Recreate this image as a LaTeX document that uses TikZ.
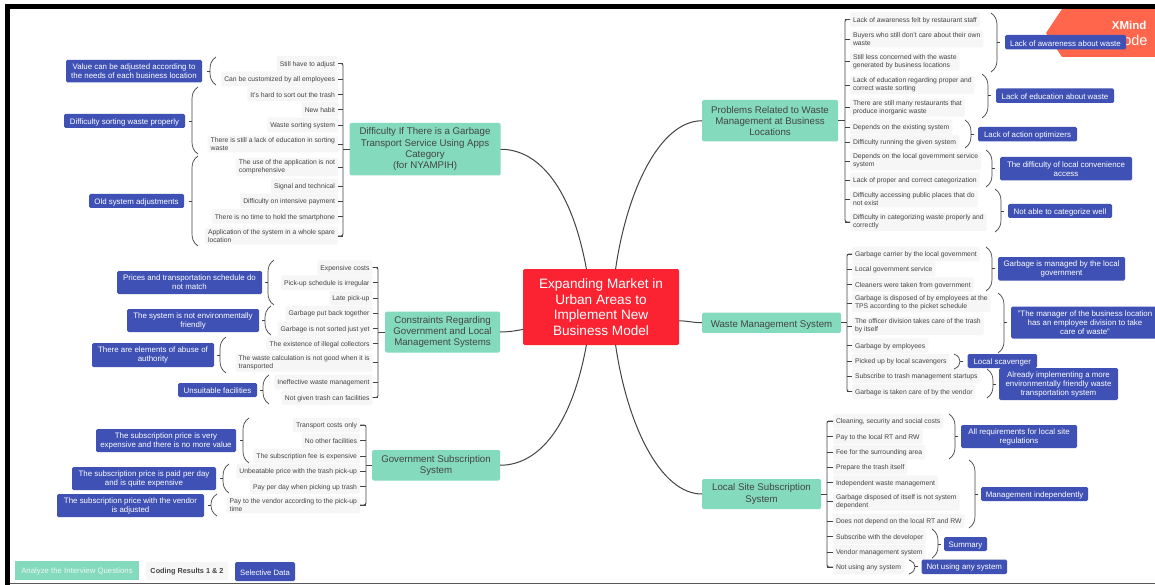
\documentclass[tikz,border=0pt]{standalone}
\usepackage{fontspec}
\setmainfont{Liberation Sans}
\definecolor{rootred}{HTML}{FB2231}
\definecolor{mainmint}{HTML}{84DABD}
\definecolor{groupblue}{HTML}{3F51B5}
\definecolor{leafgray}{HTML}{F6F6F6}
\definecolor{inkgray}{HTML}{444444}
\definecolor{badgered}{HTML}{FF664B}
\tikzset{
  lowertext/.style={execute at begin node={\rule{0pt}{1em}}},
  rootbox/.style={fill=rootred,text=white,rounded corners=1.5pt,align=center,outer sep=0pt,minimum width=156pt,minimum height=76pt,lowertext,font=\fontsize{13.6}{15.7}\selectfont},
  mainbox/.style={fill=mainmint,text=inkgray,rounded corners=1.5pt,align=center,outer sep=0pt,execute at begin node={\rule{0pt}{1.2em}},font=\fontsize{9.7}{11.2}\selectfont},
  leafbox/.style={fill=leafgray,text=inkgray,rounded corners=2pt,align=left,outer sep=0pt,inner xsep=3pt,inner ysep=2pt,minimum height=14.5pt,lowertext,font=\fontsize{6.8}{7.7}\selectfont},
  groupbox/.style={fill=groupblue,text=white,rounded corners=1.5pt,align=center,outer sep=0pt,inner sep=0pt,lowertext,font=\fontsize{7.9}{9}\selectfont},
  capline/.style={draw=inkgray,line width=.7pt},
  tickline/.style={draw=inkgray,line width=.9pt},
  spineline/.style={draw=inkgray,line width=.9pt,rounded corners=2pt},
  branchline/.style={draw=inkgray,line width=1pt}
}
\newcommand{\capbrace}[5]{%
  \pgfmathsetmacro{\capend}{#2+#5*6}
  \pgfmathsetmacro{\captip}{#2-#5*3}
  \pgfmathsetmacro{\caph}{min(12,(#4-#3)/2)}
  \coordinate (tip#1) at (\captip,0 |- #1);
  \draw[capline] (\capend,#3) .. controls ({#2+#5*1.5},{#3+\caph*.25}) and (#2,{#3+\caph*.6}) .. (#2,{#3+\caph}) -- (#2,{#4-\caph}) .. controls (#2,{#4-\caph*.6}) and ({#2+#5*1.5},{#4-\caph*.25}) .. (\capend,#4);
  \draw[capline] (tip#1) -- (#2,0 |- #1);
}
\begin{document}
\begin{tikzpicture}[x=1pt,y=-1pt]
\useasboundingbox (0,0) rectangle (1155,585);
\fill[white] (0,0) rectangle (1155,585);
\fill[badgered] (1046,33) -- (1062,9) -- (1155,9) -- (1155,57) -- (1062,57) -- cycle;
\node[text=white,font=\fontsize{11.5}{12}\selectfont\bfseries,anchor=east] (badgeName) at (1150,25) {XMind};
\node[text=white,font=\fontsize{14.5}{16}\selectfont,anchor=east] (badgeMode) at (1151,40.5) {ode};
\fill[black] (5,4) rectangle (1155,9);
\fill[black] (5,4) rectangle (10,585);
\fill[black!65] (10,582.5) rectangle (1155,584);
\node[rootbox] (root) at (601,307) {Expanding Market in\\Urban Areas to\\Implement New\\Business Model};
\node[mainbox,minimum width=151pt,minimum height=52.5pt] (mDiff) at (425,149.25) {Difficulty If There is a Garbage\\Transport Service Using Apps\\Category\\(for NYAMPIH)};
\node[mainbox,minimum width=115pt,minimum height=41pt] (mCon) at (442.5,332) {Constraints Regarding\\Government and Local\\ Management Systems};
\node[mainbox,minimum width=128pt,minimum height=30.5pt] (mGov) at (436,465.25) {Government Subscription\\System};
\node[mainbox,minimum width=136pt,minimum height=41.5pt] (mProb) at (770,120.75) {Problems Related to Waste\\Management at Business\\Locations};
\node[mainbox,minimum width=139pt,minimum height=19.5pt] (mWaste) at (771.5,322.75) {Waste Management System};
\node[mainbox,minimum width=119pt,minimum height=30pt] (mLocal) at (761.5,494) {Local Site Subscription\\System};
\draw[branchline] (root.111) .. controls (572,190) and (540,149.25) .. (mDiff.east);
\draw[branchline] (root.69) .. controls (627,190) and (660,120.75) .. (mProb.west);
\draw[branchline] (root.249) .. controls (572,424) and (540,465.25) .. (mGov.east);
\draw[branchline] (root.291) .. controls (627,424) and (660,494) .. (mLocal.west);
\draw[branchline] (root.196) .. controls (515,331) and (508,332) .. (mCon.east);
\draw[branchline] (root.350) .. controls (688,321) and (694,322.75) .. (mWaste.west);
\coordinate (spDiff) at (343,0);
\coordinate (spCon) at (378,0);
\coordinate (spGov) at (366,0);
\coordinate (spProb) at (845,0);
\coordinate (spWaste) at (847,0);
\coordinate (spLocal) at (827,0);
\foreach \nm/\yy/\txt in {
  a1/63.5/Still have to adjust,
  a2/79/Can be customized by all employees,
  a3/94/It's hard to sort out the trash,
  a4/109.5/New habit,
  a5/125/Waste sorting system,
  a6/144/{There is still a lack of education in sorting\\waste},
  a7/167/{The use of the application is not\\comprehensive},
  a8/186/Signal and technical,
  a9/201/Difficulty on intensive payment,
  a10/216.5/There is no time to hold the smartphone,
  a11/236/{Application of the system in a whole spare\\location}}{
  \node[leafbox,anchor=east] (\nm) at (338,\yy) {\txt};
  \draw[tickline] (\nm.east) -- (\nm.east -| spDiff);
}
\draw[spineline] (a1.east) -- (a1.east -| spDiff) -- (a11.east -| spDiff) -- (a11.east);
\draw[tickline] (mDiff.west) -- (mDiff.west -| spDiff);
\foreach \nm/\yy/\txt in {
  c1/267.5/Expensive costs,
  c2/282.5/Pick-up schedule is irregular,
  c3/298/Late pick-up,
  c4/313/Garbage put back together,
  c5/328.5/Garbage is not sorted just yet,
  c6/343.5/The existence of illegal collectors,
  c7/362.7/{The waste calculation is not good when it is\\transported},
  c8/382/Ineffective waste management,
  c9/397.5/Not given trash can facilities}{
  \node[leafbox,anchor=east] (\nm) at (372.5,\yy) {\txt};
  \draw[tickline] (\nm.east) -- (\nm.east -| spCon);
}
\draw[spineline] (c1.east) -- (c1.east -| spCon) -- (c9.east -| spCon) -- (c9.east);
\draw[tickline] (mCon.west) -- (mCon.west -| spCon);
\foreach \nm/\yy/\txt in {
  g1/425/Transport costs only,
  g2/440.5/No other facilities,
  g3/456/The subscription fee is expensive,
  g4/471/Unbeatable price with the trash pick-up,
  g5/486.5/Pay per day when picking up trash,
  g6/505/{Pay to the vendor according to the pick-up\\time}}{
  \node[leafbox,anchor=east] (\nm) at (360,\yy) {\txt};
  \draw[tickline] (\nm.east) -- (\nm.east -| spGov);
}
\draw[spineline] (g1.east) -- (g1.east -| spGov) -- (g6.east -| spGov) -- (g6.east);
\draw[tickline] (mGov.west) -- (mGov.west -| spGov);
\foreach \nm/\yy/\txt in {
  p1/19.5/Lack of awareness felt by restaurant staff,
  p2/39/{Buyers who still don't care about their own\\waste},
  p3/61.5/{Still less concerned with the waste\\generated by business locations},
  p4/85/{Lack of education regarding proper and\\correct waste sorting},
  p5/107.5/{There are still many restaurants that\\produce inorganic waste},
  p6/127/Depends on the existing system,
  p7/142/Difficulty running the given system,
  p8/161/{Depends on the local government service\\system},
  p9/180/Lack of proper and correct categorization,
  p10/199/{Difficulty accessing public places that do\\not exist},
  p11/222/{Difficulty in categorizing waste properly and\\correctly}}{
  \node[leafbox,anchor=west] (\nm) at (850,\yy) {\txt};
  \draw[tickline] (\nm.west) -- (\nm.west -| spProb);
}
\draw[spineline] (p1.west) -- (p1.west -| spProb) -- (p11.west -| spProb) -- (p11.west);
\draw[tickline] (mProb.east) -- (mProb.east -| spProb);
\foreach \nm/\yy/\txt in {
  w1/254/Garbage carrier by the local government,
  w2/269/Local government service,
  w3/284.5/Cleaners were taken from government,
  w4/303/{Garbage is disposed of by employees at the\\TPS according to the picket schedule},
  w5/326/{The officer division takes care of the trash\\by itself},
  w6/345.5/Garbage by employees,
  w7/361/Picked up by local scavengers,
  w8/376/Subscribe to trash management startups,
  w9/391.5/Garbage is taken care of by the vendor}{
  \node[leafbox,anchor=west] (\nm) at (852,\yy) {\txt};
  \draw[tickline] (\nm.west) -- (\nm.west -| spWaste);
}
\draw[spineline] (w1.west) -- (w1.west -| spWaste) -- (w9.west -| spWaste) -- (w9.west);
\draw[tickline] (mWaste.east) -- (mWaste.east -| spWaste);
\foreach \nm/\yy/\txt in {
  l1/421/{Cleaning, security and social costs},
  l2/436.5/Pay to the local RT and RW,
  l3/452/Fee for the surrounding area,
  l4/467/Prepare the trash itself,
  l5/482.5/Independent waste management,
  l6/501.5/{Garbage disposed of itself is not system\\dependent},
  l7/521/Does not depend on the local RT and RW,
  l8/536.5/Subscribe with the developer,
  l9/552/Vendor management system,
  l10/567/Not using any system}{
  \node[leafbox,anchor=west] (\nm) at (833,\yy) {\txt};
  \draw[tickline] (\nm.west) -- (\nm.west -| spLocal);
}
\draw[spineline] (l1.west) -- (l1.west -| spLocal) -- (l10.west -| spLocal) -- (l10.west);
\draw[tickline] (mLocal.east) -- (mLocal.east -| spLocal);
\foreach \nm/\cx/\cy/\bw/\bh/\bx/\ya/\yb/\side/\txt in {
  bA/134/71.25/136/22.5/210/57/85/1/{Value can be adjusted according to\\the needs of each business location},
  bB/124.5/121/121/14/192/87/154/1/Difficulty sorting waste properly,
  bC/136.5/201/95/14/192/156/246/1/Old system adjustments,
  bD/189.5/282.5/145/23/268/260/305/1/{Prices and transportation schedule do\\not match},
  bE/193/320.5/132/23/265/306/335/1/{The system is not environmentally\\friendly},
  bF/153/355/122/24/220/337/373/1/{There are elements of abuse of\\authority},
  bG/217.5/390/79/14/263/375/404/1/Unsuitable facilities,
  bH/166/440.5/140/23/243/418/463/1/{The subscription price is very\\expensive and there is no more value},
  bI/144/478.5/144/23/223/464/493/1/{The subscription price is paid per day\\and is quite expensive},
  bJ/130.5/505.5/147/23/211/494/516/1/{The subscription price with the vendor\\is adjusted},
  bK/1065.5/42.25/121/14.5/997/13/72/-1/Lack of awareness about waste,
  bL/1055/95.75/118/14.5/988/74/118/-1/Lack of education about waste,
  bM/1027.5/134.25/99/14.5/971/120/148/-1/Lack of action optimizers,
  bN/1066/168.75/132/23.5/992/150/187/-1/{The difficulty of local convenience\\access},
  bO/1060/211/104/14/1001/189/232/-1/Not able to categorize well,
  bP/1061.5/268.75/127/23.5/992/247/291/-1/{Garbage is managed by the local\\government},
  bQ/1085/322.5/148/32/1004/293/353/-1/{"The manager of the business location\\has an employee division to take\\care of waste"},
  bR/1002.25/361/69.5/14/960/354/369/-1/Local scavenger,
  bS/1058.5/384/119/32/993/369/398/-1/{Already implementing a more\\environmentally friendly waste\\transportation system},
  bT/1019/436.5/116/23/955/414/459/-1/{All requirements for local site\\regulations},
  bU/1034.5/494/107/14/975/460/528/-1/Management independently,
  bV/965.5/544/43/14/938/529/558/-1/Summary,
  bW/964.25/566.75/85.5/14.5/915/560/574/-1/Not using any system}{
  \node[groupbox,minimum width=\bw pt,minimum height=\bh pt] (\nm) at (\cx,\cy) {\txt};
  \capbrace{\nm}{\bx}{\ya}{\yb}{\side}
}
\node[fill=mainmint,text=white!85!mainmint,minimum width=124pt,minimum height=19pt,inner sep=0pt,outer sep=0pt,lowertext,font=\fontsize{7.8}{9}\selectfont] (keyMain) at (77,570.5) {Analyze the Interview Questions};
\node[leafbox,minimum width=82pt,minimum height=18pt,inner sep=0pt,align=center,font=\fontsize{7.3}{9}\selectfont\bfseries] (keyLeaf) at (187,571) {Coding Results 1 \& 2};
\node[groupbox,minimum width=60pt,minimum height=19pt,font=\fontsize{7.7}{9}\selectfont] (keyGroup) at (265,571.5) {Selective Data};
\end{tikzpicture}
\end{document}
